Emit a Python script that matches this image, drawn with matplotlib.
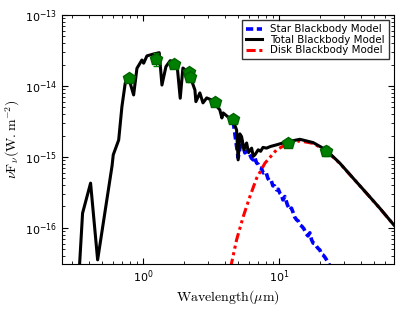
import matplotlib
matplotlib.use("Agg")
import matplotlib.pyplot as plt

# total model (star + disk)
wl_total = [0.337, 0.358, 0.410, 0.462, 0.590, 0.602, 0.660, 0.697, 0.737, 0.781,
            0.850, 0.899, 0.978, 1.007, 1.065, 1.192, 1.311, 1.373, 1.469, 1.580,
            1.769, 1.871, 1.958, 2.168, 2.40, 2.44, 2.61, 2.75, 2.93, 3.18,
            3.37, 3.66, 3.79, 3.87, 4.20, 4.59, 4.86, 4.99, 5.14, 5.29,
            5.50, 5.76, 5.95, 6.27, 6.45, 6.63, 7.01, 7.30, 7.60, 8.08,
            8.60, 9.57, 10.4, 11.65, 14.2, 17.78,
            22.04, 27.95, 35.0, 43.9, 55.0, 69.7]
fl_total = [2.2e-17, 1.61e-16, 4.27e-16, 3.54e-17, 7.5e-16, 1.07e-15, 1.73e-15, 5.1e-15, 1.09e-14, 1.30e-14,
            7.47e-15, 1.77e-14, 2.32e-14, 2.09e-14, 2.65e-14, 2.82e-14, 2.94e-14, 1.03e-14, 1.87e-14, 2.27e-14,
            2.09e-14, 6.71e-15, 1.79e-14, 1.52e-14, 8.78e-15, 6.01e-15, 7.97e-15, 5.77e-15, 6.78e-15, 6.35e-15,
            5.57e-15, 4.59e-15, 3.54e-15, 4.17e-15, 3.66e-15, 3.21e-15, 2.40e-15, 9.08e-16, 2.11e-15, 1.93e-15,
            1.26e-15, 1.57e-15, 1.15e-15, 1.33e-15, 1.02e-15, 1.07e-15, 1.26e-15, 1.20e-15, 1.36e-15, 1.33e-15,
            1.40e-15, 1.48e-15, 1.55e-15, 1.64e-15, 1.77e-15, 1.59e-15,
            1.26e-15, 8.15e-16, 5.01e-16, 3.08e-16, 1.89e-16, 1.10e-16]

# star photosphere (only the part that shows beside the total)
wl_star = [4.59, 4.99, 5.29, 5.59, 5.85, 6.09, 6.25, 6.44, 6.60, 6.82, 7.0, 7.21, 7.40, 7.63, 7.99,
           8.25, 8.54, 8.75, 8.99, 9.25, 9.57, 9.85, 10.12, 10.40, 10.65, 11.01, 11.5, 11.99, 12.3, 12.61,
           13.0, 13.42, 13.8, 14.2, 14.7, 15.19, 15.7, 16.26, 16.81, 17.3, 17.78, 18.3, 18.93, 19.4, 19.91,
           20.4, 20.95, 21.6, 22.31, 23.0, 23.99]
fl_star = [3.15e-15, 9.7e-16, 1.73e-15, 1.14e-15, 1.22e-15, 1.07e-15, 9.6e-16, 9.08e-16, 9.9e-16, 8.22e-16,
           7.9e-16, 7.0e-16, 6.9e-16, 5.96e-16, 6.15e-16,
           5.0e-16, 4.49e-16, 4.6e-16, 3.91e-16, 3.9e-16, 3.43e-16, 3.5e-16, 3.08e-16, 2.9e-16, 2.48e-16,
           2.76e-16, 2.1e-16, 1.79e-16, 1.9e-16, 1.68e-16,
           1.42e-16, 1.30e-16, 1.25e-16, 1.10e-16, 1.05e-16, 9.7e-17, 8.4e-17, 7.71e-17, 8.51e-17, 6.8e-17,
           6.10e-17, 6.0e-17, 5.40e-17, 5.1e-17, 4.89e-17,
           4.3e-17, 4.17e-17, 3.9e-17, 3.54e-17, 3.2e-17, 2.74e-17]

# disk blackbody
wl_disk = [4.39, 4.86, 5.44, 6.09, 6.82, 7.85, 9.57, 11.65, 14.2, 17.78,
           22.04, 27.95, 35.0, 43.9, 55.0, 69.7]
fl_disk = [2.74e-17, 6.78e-17, 1.44e-16, 2.76e-16, 5.0e-16, 8.15e-16, 1.26e-15, 1.55e-15, 1.68e-15, 1.55e-15,
           1.23e-15, 8.1e-16, 5.0e-16, 3.07e-16, 1.88e-16, 1.10e-16]

# photometry
wl_obs = [0.792, 1.246, 1.681, 2.18, 2.19, 3.37, 4.59, 11.53, 22.04]
fl_obs = [1.28e-14, 2.38e-14, 2.04e-14, 1.59e-14, 1.35e-14, 6.0e-15, 3.43e-15, 1.59e-15, 1.23e-15]
err_obs = [0.05e-14, 0.5e-14, 0.1e-14, 0.1e-14, 0.2e-14, 0.2e-15, 0.1e-15, 0.05e-15, 0.2e-15]

yticks = [1e-16, 1e-15, 1e-14, 1e-13]
xticks = [1, 10]

fig = plt.figure(figsize=(4.15, 3.12), dpi=100)
ax = fig.add_axes([0.149, 0.154, 0.8, 0.798])

ax.plot(wl_star, fl_star, color='blue', lw=2.6, ls=(0, (2, 1)), label='Star Blackbody Model', zorder=2)
ax.plot(wl_total, fl_total, '-', color='black', lw=2.2, label='Total Blackbody Model', zorder=4)
ax.plot(wl_disk, fl_disk, color='red', lw=2.2, ls=(0, (3, 1.2, 1, 1.2, 1, 1.2)),
        label='Disk Blackbody Model', zorder=3)
ax.errorbar(wl_obs, fl_obs, yerr=err_obs, fmt='p', color='green', mec='darkgreen',
            ms=9, elinewidth=0.8, capsize=2, zorder=5)

ax.set_xscale('log')
ax.set_yscale('log')
ax.set_yticks(yticks)
ax.set_xticks(xticks)
ax.set_xlim(0.252, 69.7)
ax.set_ylim(3.1e-17, 1e-13)

ax.tick_params(which='both', direction='in', top=True, right=True, labelsize=8)
ax.tick_params(which='major', length=4)
ax.tick_params(which='minor', length=2)

ax.set_xlabel(r'$\mathrm{Wavelength}(\mu\mathrm{m})$', fontsize=10, math_fontfamily='cm', labelpad=2)
ax.set_ylabel(r'$\nu\mathrm{F}_\nu(\mathrm{W.m}^{-2})$', fontsize=10, math_fontfamily='cm', labelpad=2)

leg = ax.legend(loc='upper right', fontsize=7.4, handlelength=1.5, labelspacing=0.05,
                fancybox=False, borderpad=0.4, handletextpad=0.8)
leg.get_frame().set_edgecolor('black')

fig.savefig('out.png', dpi=100)
